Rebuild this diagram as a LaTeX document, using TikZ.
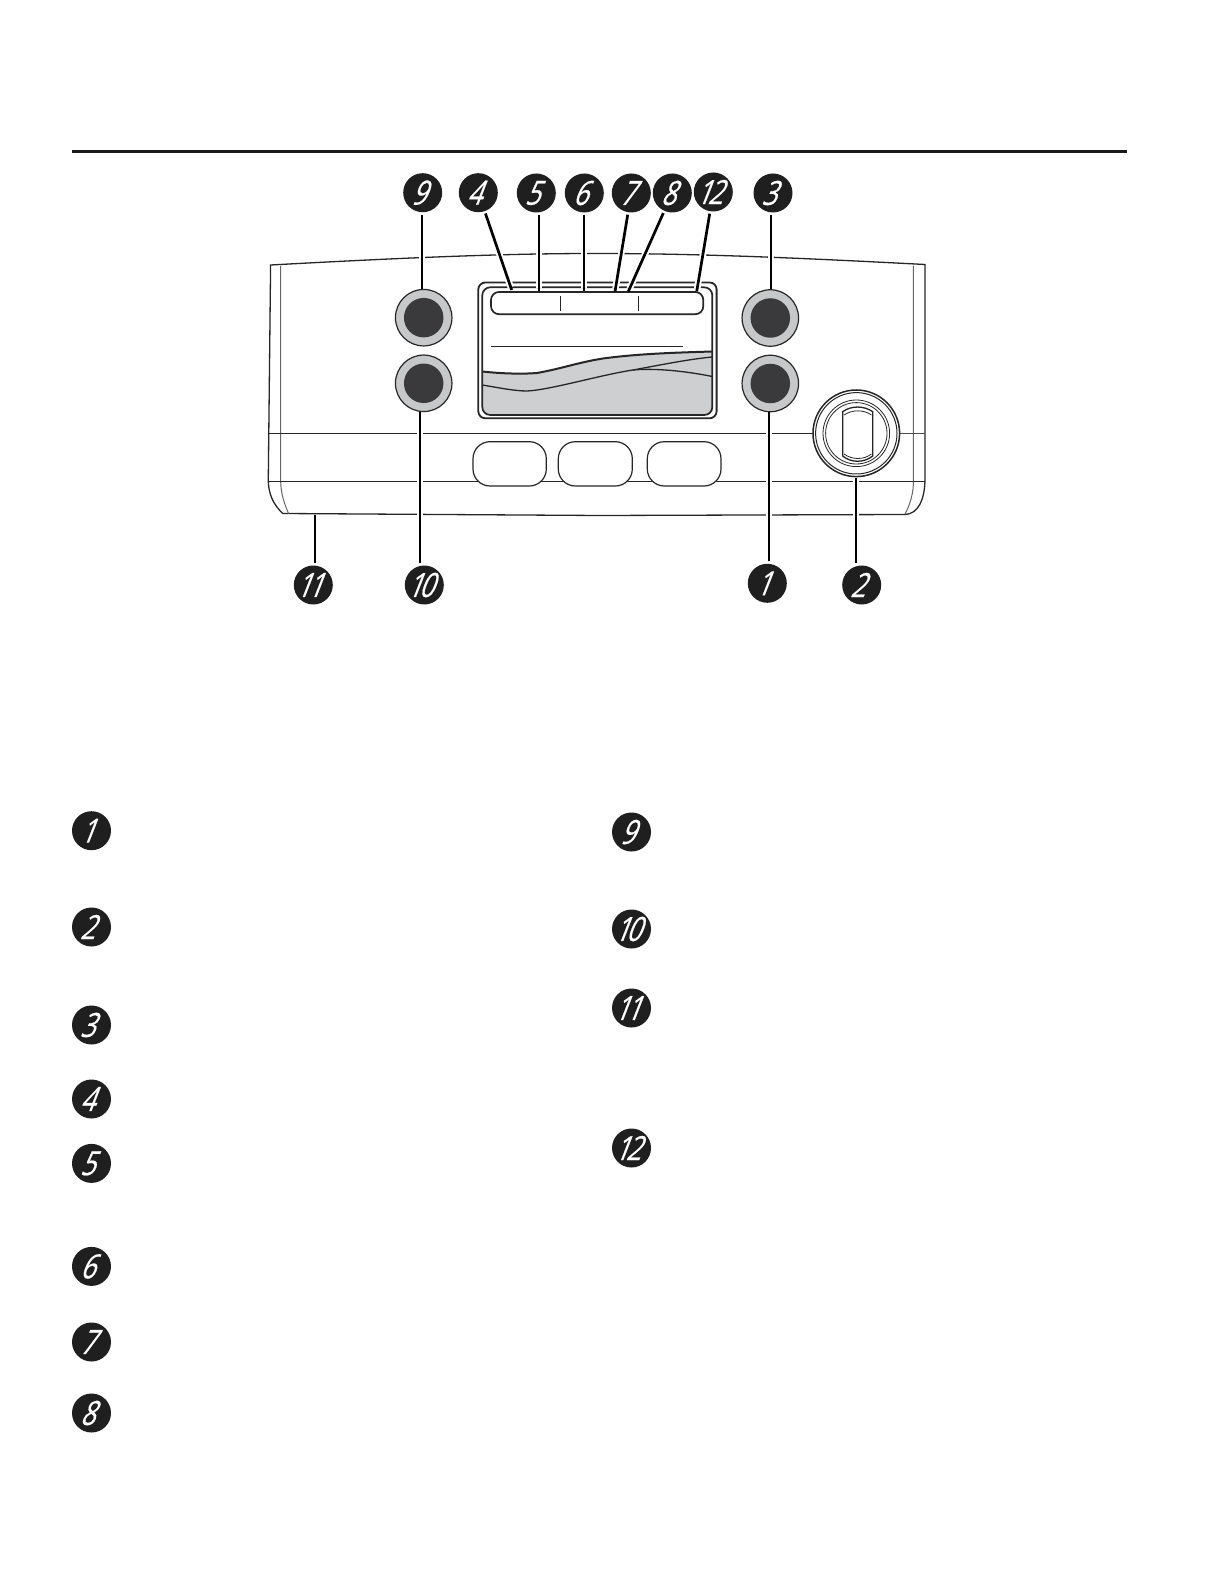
\documentclass[tikz,border=0pt]{standalone}
\usepackage{fontspec}
\setmainfont{Liberation Sans}
\newfontfamily\bulletfont[FakeSlant=0.5, FakeBold=0.6]{Open Sans}
\tikzset{
	bullet/.style={circle, fill=black!88, text=white, inner sep=0pt, minimum size=3.9mm, outer sep=0.25mm, font=\fontsize{9.5}{10}\bulletfont},
	leader/.style={line width=0.27mm, preaction={draw=white, line width=0.65mm, shorten >=0.3mm}},
	ring/.style={circle, draw=black!85, line width=0.1mm, inner sep=0pt},
	softkey/.style={draw=black!85, line width=0.12mm, rounded corners=1.7mm, fill=white},
	edge/.style={draw=black!85, line width=0.13mm},
}
\definecolor{knobgrey}{HTML}{C6C8C9}
\definecolor{knobdark}{HTML}{3A3A3C}
\definecolor{lcdgrey}{HTML}{CDCFD0}
\newcommand{\callout}[4] % x, y, name, number
{
	\node[bullet] (#3) at (#1,#2) {\makebox[0pt]{\hspace*{-2.4pt}\scalebox{0.78}[1]{#4}}};
}
\newcommand{\knob}[3] % x, y, name
{
	\node[ring, line width=0.12mm, fill=knobgrey, minimum size=5.65mm] (#3) at (#1,#2) {};
	\node[circle, fill=knobdark, inner sep=0pt, minimum size=3.95mm] (#3i) at (#1,#2) {};
}
\begin{document}
\begin{tikzpicture}[x=0.1mm, y=-0.1mm]
	\useasboundingbox (0,0) rectangle (1224,1584);
	\fill[white] (0,0) rectangle (1224,1584);
	% heading rule
	\draw[line width=0.38mm, black!90] (72,151.5) -- (1127,151.5);
	% housing
	\draw[edge] (270.6,265) .. controls (400,258) and (500,253.5) .. (595,253.5) .. controls (700,253.5) and (800,258) .. (925,264.5)
		-- (925,478) .. controls (925,500) and (918,514) .. (905,514.5)
		-- (600,515.5) -- (282.7,513.5) .. controls (274,505) and (268,495) .. (268.3,478) -- cycle;
	\draw[draw=black!60, line width=0.1mm] (280.7,266) -- (280.7,482) .. controls (281,495) and (285,505) .. (288.5,513.5);
	\draw[draw=black!60, line width=0.1mm] (913.3,266) -- (913.3,485) .. controls (913,495) and (909,507) .. (905,514);
	\draw[edge] (269,433.4) -- (813,433.4);
	\draw[edge, black!70] (899,433.4) -- (925,433.4);
	\draw[edge] (268.5,481.4) -- (925,481.4);
	% display
	\draw[edge, line width=0.18mm, rounded corners=0.7mm] (478.3,282.5) rectangle (716.6,418.3);
	\fill[lcdgrey] (482.3,371.5) .. controls (505,374) and (525,374) .. (537,373) .. controls (560,369) and (580,362) .. (603,358.5) .. controls (640,353.5) and (680,352.5) .. (712.3,351.5)
		-- (712.3,411) -- (709,415) -- (486,415) -- (482.3,411) -- cycle;
	\draw[edge, line width=0.17mm, rounded corners=0.8mm] (482.3,287.3) rectangle (712.3,415);
	\draw[edge, line width=0.2mm] (482.3,371.5) .. controls (505,374) and (525,374) .. (537,373) .. controls (560,369) and (580,362) .. (603,358.5) .. controls (640,353.5) and (680,352.5) .. (712.3,351.5);
	\draw[edge] (482.3,385) .. controls (500,388) and (515,391) .. (527,391) .. controls (550,390) and (600,375) .. (633,370) .. controls (660,365) and (690,359) .. (712.3,357);
	\draw[edge] (633,370) .. controls (655,368) and (685,371) .. (712.3,376.5);
	\draw[edge, line width=0.17mm, rounded corners=0.8mm, fill=white] (491,292) rectangle (703.3,314.2);
	\draw[edge] (560.3,296) -- (560.3,311);
	\draw[edge] (638.3,296) -- (638.3,311);
	\draw[edge, line width=0.11mm] (491,346.5) -- (682.7,346.5);
	% knobs
	\knob{423.7}{317.7}{kna};
	\knob{423.7}{383.3}{knb};
	\knob{770.3}{318}{knc};
	\knob{770.3}{383.5}{knd};
	% soft keys
	\draw[softkey] (473,441.7) rectangle (546.3,486);
	\draw[softkey] (558.3,441.7) rectangle (632.3,486);
	\draw[softkey] (647.3,441.7) rectangle (721,486);
	% dial
	\node[ring, fill=white, line width=0.15mm, minimum size=8.66mm] (dial) at (856.3,433.3) {};
	\node[ring, minimum size=8.14mm] at (856.3,433.3) {};
	\node[ring, line width=0.08mm, minimum size=6.66mm] at (856.3,433.3) {};
	\node[ring, line width=0.08mm, minimum size=6.14mm] at (856.3,433.3) {};
	\draw[edge, line width=0.13mm] (842.7,411.7) .. controls (851,405.5) and (864,405.5) .. (872.7,411.7) -- (872.7,456) .. controls (864,463) and (851,463) .. (842.7,456) -- cycle;
	\draw[edge, line width=0.08mm] (844,415) .. controls (852,409.5) and (864,409.5) .. (871.4,415);
	\draw[edge, line width=0.08mm] (844,454) .. controls (852,460) and (864,460) .. (871.4,454);
	% callouts
	\callout{422.7}{192.7}{c9}{9}
	\callout{478.3}{192.7}{c4}{4}
	\callout{536.3}{193}{c5}{5}
	\callout{584.3}{193}{c6}{6}
	\callout{631.3}{193}{c7}{7}
	\callout{672.3}{193}{c8}{8}
	\callout{713.3}{192}{c12}{1\kern-1.2pt 2}
	\callout{773}{193}{c3}{3}
	\callout{767.3}{583.3}{c1}{1}
	\callout{861.7}{585}{c2}{2}
	\callout{313.3}{585}{c11}{1\kern-1.2pt 1}
	\callout{424.3}{585}{c10}{1\kern-1.2pt 0}
	% leader ends
	\coordinate (e9) at (422,288.7);
	\coordinate (e4) at (511.7,290);
	\coordinate (e5) at (539,291.5);
	\coordinate (e6) at (584,291.5);
	\coordinate (e7) at (615,291.5);
	\coordinate (e8) at (628.3,291.5);
	\coordinate (e12) at (696.7,291.5);
	\coordinate (e3) at (771,289.5);
	\coordinate (e1) at (769,412.5);
	\coordinate (e2) at (856,478);
	\coordinate (e11) at (315,515.5);
	\coordinate (e10) at (420,412.5);
	\draw[leader] (e9 |- c9.south) -- (e9);
	\draw[leader] (c4) -- (e4);
	\draw[leader] (e5 |- c5.south) -- (e5);
	\draw[leader] (e6 |- c6.south) -- (e6);
	\draw[leader] (c7) -- (e7);
	\draw[leader] (c8) -- (e8);
	\draw[leader] (c12) -- (e12);
	\draw[leader] (e3 |- c3.south) -- (e3);
	\draw[leader] (e1 |- c1.north) -- (e1);
	\draw[leader] (e2 |- c2.north) -- (e2);
	\draw[leader] (e11 |- c11.north) -- (e11);
	\draw[leader] (e10 |- c10.north) -- (e10);
	% key to the numbers
	\callout{91.5}{830.7}{l1}{1}
	\callout{91.5}{927}{l2}{2}
	\callout{91.5}{1025}{l3}{3}
	\callout{91.5}{1099}{l4}{4}
	\callout{91.5}{1163.4}{l5}{5}
	\callout{91.5}{1266.4}{l6}{6}
	\callout{91.5}{1342}{l7}{7}
	\callout{91.5}{1413}{l8}{8}
	\callout{631.5}{832}{l9}{9}
	\callout{631.5}{929}{l10}{1\kern-1.2pt 0}
	\callout{631.5}{1008}{l11}{1\kern-1.2pt 1}
	\callout{631.5}{1148}{l12}{1\kern-1.2pt 2}
\end{tikzpicture}
\end{document}
